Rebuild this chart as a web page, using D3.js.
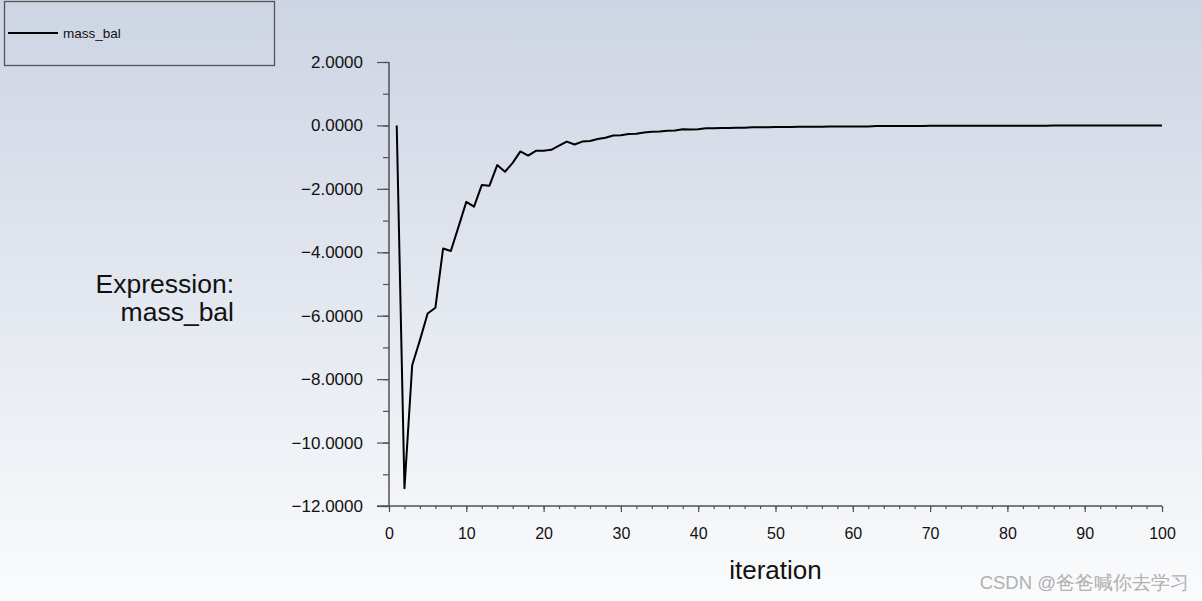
<!DOCTYPE html>
<html>
<head>
<meta charset="utf-8">
<script src="https://cdn.jsdelivr.net/npm/d3@7/dist/d3.min.js"></script>
<style>
  html, body { margin: 0; padding: 0; background: #fff; }
  svg { display: block; }
  text { font-family: "Liberation Sans", Arial, sans-serif; }
</style>
</head>
<body>
<script>
// ---- data ----
const iterations = d3.range(1, 101);
const massBal = [
  0.00, -11.44, -7.56, -6.77, -5.93, -5.75, -3.88, -3.96, -3.19, -2.41,
  -2.56, -1.88, -1.90, -1.25, -1.46, -1.18, -0.82, -0.95, -0.80, -0.80,
  -0.77, -0.64, -0.51, -0.60, -0.51, -0.49, -0.43, -0.39, -0.32, -0.31,
  -0.27, -0.26, -0.22, -0.20, -0.19, -0.17, -0.16, -0.12, -0.13, -0.12,
  -0.09, -0.09, -0.08, -0.08, -0.07, -0.07, -0.06, -0.06, -0.06, -0.05,
  -0.05, -0.05, -0.04, -0.04, -0.04, -0.04, -0.03, -0.03, -0.03, -0.03,
  -0.03, -0.03, -0.02, -0.02, -0.02, -0.02, -0.02, -0.02, -0.02, -0.01,
  -0.01, -0.01, -0.01, -0.01, -0.01, -0.01, -0.01, -0.01, -0.01, -0.01,
  -0.01, -0.01, -0.01, -0.01, -0.01, -0.005, -0.005, -0.005, -0.005, -0.005,
  -0.005, -0.005, -0.005, -0.005, -0.005, -0.005, -0.005, -0.005, -0.005, -0.005
];
const xTicks = [0, 10, 20, 30, 40, 50, 60, 70, 80, 90, 100];
const xMinorTicks = d3.range(0, 101, 2);
const yTicks = [2, 0, -2, -4, -6, -8, -10, -12];
const yMinorTicks = d3.range(-12, 2.5, 1);
const seriesName = "mass_bal";
const yLabelLines = ["Expression:", "mass_bal"];
const xLabel = "iteration";
const watermark = "CSDN @爸爸喊你去学习";

// ---- layout ----
const W = 1202, H = 601;
const svg = d3.select("body").append("svg").attr("width", W).attr("height", H);

const defs = svg.append("defs");
const grad = defs.append("linearGradient").attr("id", "bg").attr("x1", 0).attr("y1", 0).attr("x2", 0).attr("y2", 1);
grad.append("stop").attr("offset", "0%").attr("stop-color", "rgb(205,212,227)");
grad.append("stop").attr("offset", "100%").attr("stop-color", "rgb(250,251,252)");
svg.append("rect").attr("width", W).attr("height", H).attr("fill", "url(#bg)");

const x = d3.scaleLinear().domain([0, 100]).range([389, 1162]);
const y = d3.scaleLinear().domain([-12, 2]).range([506, 62]);

const axisColor = "#505050";

// y axis minor
const yMinor = svg.append("g").attr("transform", `translate(${x(0)},0)`)
  .call(d3.axisLeft(y).tickValues(yMinorTicks).tickSize(6).tickFormat(""));
yMinor.select(".domain").remove();
yMinor.selectAll("line").attr("stroke", axisColor).attr("stroke-width", 1.2);

// y axis major
const yAx = svg.append("g").attr("transform", `translate(${x(0)},0)`)
  .call(d3.axisLeft(y).tickValues(yTicks).tickSize(12).tickPadding(14).tickFormat(d3.format(".4f")));
yAx.select(".domain").remove();
yAx.selectAll("line").attr("stroke", axisColor).attr("stroke-width", 1.2);
yAx.selectAll("text").attr("font-size", 17).attr("fill", "#111")
  .attr("font-family", "'Liberation Sans', Arial, sans-serif");

// x axis minor
const xMinor = svg.append("g").attr("transform", `translate(0,${y(-12)})`)
  .call(d3.axisBottom(x).tickValues(xMinorTicks).tickSize(3).tickFormat(""));
xMinor.select(".domain").remove();
xMinor.selectAll("line").attr("stroke", axisColor).attr("stroke-width", 1.2);

// x axis major
const xAx = svg.append("g").attr("transform", `translate(0,${y(-12)})`)
  .call(d3.axisBottom(x).tickValues(xTicks).tickSize(6).tickPadding(16));
xAx.select(".domain").remove();
xAx.selectAll("line").attr("stroke", axisColor).attr("stroke-width", 1.2);
xAx.selectAll("text").attr("font-size", 16).attr("fill", "#111")
  .attr("font-family", "'Liberation Sans', Arial, sans-serif");

// axis lines
svg.append("line").attr("x1", x(0)).attr("x2", x(0)).attr("y1", y(2)).attr("y2", y(-12))
  .attr("stroke", axisColor).attr("stroke-width", 1.5);
svg.append("line").attr("x1", x(0) - 12).attr("x2", x(100)).attr("y1", y(-12)).attr("y2", y(-12))
  .attr("stroke", axisColor).attr("stroke-width", 1.5);

// series line
const line = d3.line().x((d, i) => x(iterations[i])).y(d => y(d));
svg.append("path").datum(massBal).attr("d", line)
  .attr("fill", "none").attr("stroke", "#000").attr("stroke-width", 2).attr("stroke-linejoin", "round");

// y label (two lines)
yLabelLines.forEach((t, i) => {
  svg.append("text").attr("x", 234).attr("y", 293 + i * 28).attr("text-anchor", "end")
    .attr("font-size", 26.5).attr("fill", "#111").text(t);
});

// x label
svg.append("text").attr("x", (x(0) + x(100)) / 2).attr("y", 579).attr("text-anchor", "middle")
  .attr("font-size", 26).attr("fill", "#111").text(xLabel);

// legend
svg.append("rect").attr("x", 4.5).attr("y", 1.5).attr("width", 270).attr("height", 64)
  .attr("fill", "none").attr("stroke", "#555").attr("stroke-width", 1.3);
svg.append("line").attr("x1", 8).attr("x2", 58).attr("y1", 33).attr("y2", 33)
  .attr("stroke", "#000").attr("stroke-width", 2);
svg.append("text").attr("x", 63).attr("y", 38).attr("font-size", 13.5).attr("fill", "#111").text(seriesName);

// watermark
svg.append("text").attr("x", 1189).attr("y", 589).attr("text-anchor", "end")
  .attr("font-size", 18.5).attr("fill", "#b0b0b0")
  .attr("font-family", "'Noto Sans CJK SC', 'Liberation Sans', sans-serif").text(watermark);
</script>
</body>
</html>
